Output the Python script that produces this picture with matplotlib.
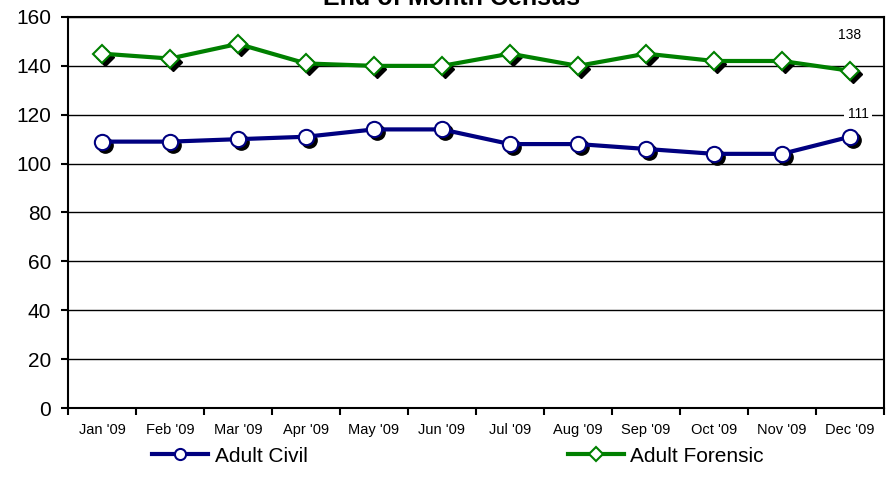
import matplotlib
matplotlib.use("Agg")
import matplotlib.pyplot as plt
import matplotlib.transforms as mtransforms
from matplotlib.lines import Line2D

plt.rcParams['font.family'] = ['Liberation Sans', 'DejaVu Sans']

months = ["Jan '09", "Feb '09", "Mar '09", "Apr '09", "May '09", "Jun '09",
          "Jul '09", "Aug '09", "Sep '09", "Oct '09", "Nov '09", "Dec '09"]
adult_civil = [109, 109, 110, 111, 114, 114, 108, 108, 106, 104, 104, 111]
adult_forensic = [145, 143, 149, 141, 140, 140, 145, 140, 145, 142, 142, 138]
series_names = ["Adult Civil", "Adult Forensic"]
title = "End of Month Census"
yticks = [0, 20, 40, 60, 80, 100, 120, 140, 160]

civil_color = "#000080"
foren_color = "#008000"

fig = plt.figure(figsize=(8.96, 4.84), dpi=100)
ax = fig.add_axes([68/896, 1-408/484, (884-68)/896, (408-17)/484])

x = list(range(len(months)))
ax.set_xlim(-0.5, len(months) - 0.5)
ax.set_ylim(0, 160)
ax.set_yticks(yticks)
ax.yaxis.grid(True, color='black', linewidth=1.0)
ax.set_axisbelow(True)

shadow = mtransforms.offset_copy(ax.transData, fig=fig, x=3, y=-3, units='dots')

# shadows
ax.plot(x, adult_civil, linestyle='none', marker='o', markersize=11,
        color='black', transform=shadow, zorder=2)
ax.plot(x, adult_forensic, linestyle='none', marker='D', markersize=9,
        color='black', transform=shadow, zorder=2)

ax.plot(x, adult_civil, color=civil_color, linewidth=3, marker='o', markersize=11,
        markerfacecolor='white', markeredgecolor=civil_color, markeredgewidth=1.5,
        zorder=3)
ax.plot(x, adult_forensic, color=foren_color, linewidth=3, marker='D', markersize=9,
        markerfacecolor='white', markeredgecolor=foren_color, markeredgewidth=1.5,
        zorder=3)

# data labels for last point
ax.text(x[-1], adult_forensic[-1] + 14.5, f"{adult_forensic[-1]}", ha='center', va='center',
        fontsize=10, zorder=4)
ax.text(x[-1] + 0.12, adult_civil[-1] + 9.5, f"{adult_civil[-1]}", ha='center', va='center',
        fontsize=10, zorder=4,
        bbox=dict(boxstyle='square,pad=0.25', facecolor='white', edgecolor='none'))

# x ticks: major at category boundaries, labels at centers
ax.set_xticks([i - 0.5 for i in range(len(months) + 1)])
ax.set_xticklabels([])
ax.set_xticks(x, minor=True)
ax.set_xticklabels(months, minor=True, fontsize=10.5)
ax.tick_params(axis='x', which='major', direction='out', length=5, width=1.5)
ax.tick_params(axis='x', which='minor', length=0, pad=11)
ax.tick_params(axis='y', direction='out', length=5, width=1.5, labelsize=15, pad=7)

for s in ax.spines.values():
    s.set_linewidth(1.5)
    s.set_color('black')

fig.text(452/896, 1 - 5/484, title, ha='center', va='baseline', fontsize=18, fontweight='bold')

handles = [
    Line2D([], [], color=civil_color, linewidth=3, marker='o', markersize=8,
           markerfacecolor='white', markeredgecolor=civil_color, markeredgewidth=1.5),
    Line2D([], [], color=foren_color, linewidth=3, marker='D', markersize=7,
           markerfacecolor='white', markeredgecolor=foren_color, markeredgewidth=1.5),
]
leg = fig.legend(handles=handles, labels=series_names, loc='center',
                 bbox_to_anchor=(458/896, 1 - 456/484),
                 ncol=2, frameon=False, fontsize=15, columnspacing=12.5, handlelength=2.7,
                 handletextpad=0.3)

fig.savefig("out.png", dpi=100)
